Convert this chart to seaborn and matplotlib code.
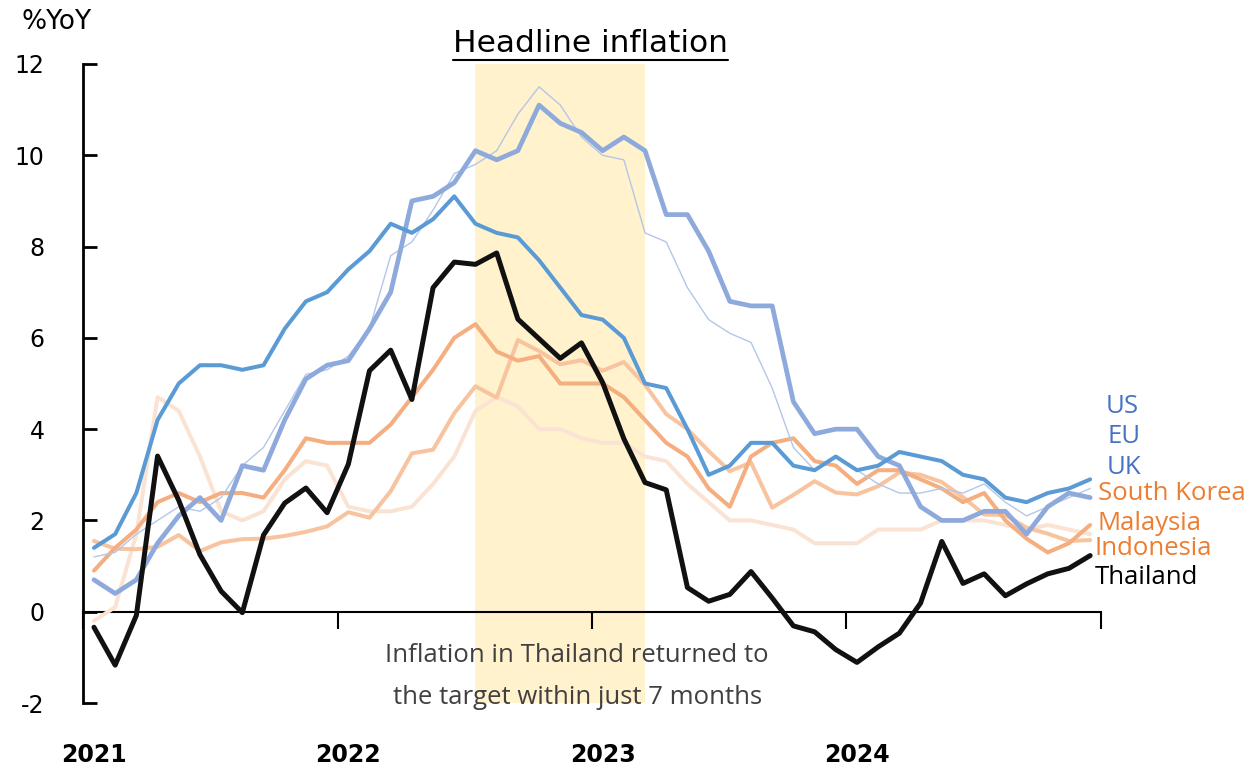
import numpy as np
import pandas as pd
import matplotlib
matplotlib.use("Agg")
import matplotlib.pyplot as plt
from matplotlib.lines import Line2D
import seaborn as sns

# monthly headline CPI, %YoY, Jan 2021 - Dec 2024
thailand = [-0.34, -1.17, -0.08, 3.41, 2.44, 1.25, 0.45, -0.02, 1.68, 2.38, 2.71, 2.17,
            3.23, 5.28, 5.73, 4.65, 7.10, 7.66, 7.61, 7.86, 6.41, 5.98, 5.55, 5.89,
            5.02, 3.79, 2.83, 2.67, 0.53, 0.23, 0.38, 0.88, 0.30, -0.31, -0.44, -0.83,
            -1.11, -0.77, -0.47, 0.19, 1.54, 0.62, 0.83, 0.35, 0.61, 0.83, 0.95, 1.23]
us = [1.4, 1.7, 2.6, 4.2, 5.0, 5.4, 5.4, 5.3, 5.4, 6.2, 6.8, 7.0,
      7.5, 7.9, 8.5, 8.3, 8.6, 9.1, 8.5, 8.3, 8.2, 7.7, 7.1, 6.5,
      6.4, 6.0, 5.0, 4.9, 4.0, 3.0, 3.2, 3.7, 3.7, 3.2, 3.1, 3.4,
      3.1, 3.2, 3.5, 3.4, 3.3, 3.0, 2.9, 2.5, 2.4, 2.6, 2.7, 2.9]
uk = [0.7, 0.4, 0.7, 1.5, 2.1, 2.5, 2.0, 3.2, 3.1, 4.2, 5.1, 5.4,
      5.5, 6.2, 7.0, 9.0, 9.1, 9.4, 10.1, 9.9, 10.1, 11.1, 10.7, 10.5,
      10.1, 10.4, 10.1, 8.7, 8.7, 7.9, 6.8, 6.7, 6.7, 4.6, 3.9, 4.0,
      4.0, 3.4, 3.2, 2.3, 2.0, 2.0, 2.2, 2.2, 1.7, 2.3, 2.6, 2.5]
eu = [1.2, 1.3, 1.7, 2.0, 2.3, 2.2, 2.5, 3.2, 3.6, 4.4, 5.2, 5.3,
      5.6, 6.2, 7.8, 8.1, 8.8, 9.6, 9.8, 10.1, 10.9, 11.5, 11.1, 10.4,
      10.0, 9.9, 8.3, 8.1, 7.1, 6.4, 6.1, 5.9, 4.9, 3.6, 3.1, 3.4,
      3.1, 2.8, 2.6, 2.6, 2.7, 2.6, 2.8, 2.4, 2.1, 2.3, 2.5, 2.7]
south_korea = [0.9, 1.4, 1.8, 2.4, 2.6, 2.4, 2.6, 2.6, 2.5, 3.1, 3.8, 3.7,
               3.7, 3.7, 4.1, 4.7, 5.3, 6.0, 6.3, 5.7, 5.5, 5.6, 5.0, 5.0,
               5.0, 4.7, 4.2, 3.7, 3.4, 2.7, 2.3, 3.4, 3.7, 3.8, 3.3, 3.2,
               2.8, 3.1, 3.1, 2.9, 2.7, 2.4, 2.6, 2.0, 1.6, 1.3, 1.5, 1.9]
indonesia = [1.55, 1.38, 1.37, 1.42, 1.68, 1.33, 1.52, 1.59, 1.60, 1.66, 1.75, 1.87,
             2.18, 2.06, 2.64, 3.47, 3.55, 4.35, 4.94, 4.69, 5.95, 5.71, 5.42, 5.51,
             5.28, 5.47, 4.97, 4.33, 4.00, 3.52, 3.08, 3.27, 2.28, 2.56, 2.86, 2.61,
             2.57, 2.75, 3.05, 3.00, 2.84, 2.51, 2.13, 2.12, 1.84, 1.71, 1.55, 1.57]
malaysia = [-0.2, 0.1, 1.7, 4.7, 4.4, 3.4, 2.2, 2.0, 2.2, 2.9, 3.3, 3.2,
            2.3, 2.2, 2.2, 2.3, 2.8, 3.4, 4.4, 4.7, 4.5, 4.0, 4.0, 3.8,
            3.7, 3.7, 3.4, 3.3, 2.8, 2.4, 2.0, 2.0, 1.9, 1.8, 1.5, 1.5,
            1.5, 1.8, 1.8, 1.8, 2.0, 2.0, 2.0, 1.9, 1.8, 1.9, 1.8, 1.7]
years = ["2021", "2022", "2023", "2024"]
y_ticks = [-2, 0, 2, 4, 6, 8, 10, 12]

months = np.arange(len(thailand))
df = pd.DataFrame({"month": months, "US": us, "EU": eu, "UK": uk,
                   "South Korea": south_korea, "Malaysia": malaysia,
                   "Indonesia": indonesia, "Thailand": thailand})

sns.set_style("white")
plt.rcParams["font.family"] = ["DejaVu Sans"]
plt.rcParams["text.color"] = "black"

fig = plt.figure(figsize=(12.48, 7.69), dpi=100)
ax = fig.add_axes([0.0668, 0.0858, 0.8152, 0.831])

# shaded period Jul 2022 - Mar 2023
ax.axvspan(18, 26, color="#FFF2CC", lw=0, zorder=0)

styles = [
    ("Malaysia", "#FBE3D3", 2.9),
    ("Indonesia", "#F8C4A0", 2.9),
    ("South Korea", "#F4AE80", 2.9),
    ("EU", "#B4C7E7", 1.0),
    ("UK", "#8EA9DB", 3.4),
    ("US", "#5B9BD5", 2.9),
    ("Thailand", "#111111", 3.6),
]
for z, (name, col, lw) in enumerate(styles):
    sns.lineplot(data=df, x="month", y=name, ax=ax, color=col, linewidth=lw,
                 zorder=2 + z)

ax.set_xlim(-0.5, 47.5)
ax.set_ylim(-2, 12)
ax.set_yticks(y_ticks)
ax.set_yticklabels([str(t) for t in y_ticks], fontsize=17, color="black")
ax.set_xticks([-0.5, 11.5, 23.5, 35.5, 47.5])
ax.set_xticklabels([])
ax.set_xlabel("")
ax.set_ylabel("")
ax.tick_params(axis="y", left=True, direction="in", length=10, width=2, pad=28,
               color="black")
ax.tick_params(axis="x", bottom=True, direction="out", length=12, width=1.5,
               color="black")

for s in ["top", "right"]:
    ax.spines[s].set_visible(False)
ax.spines["left"].set_linewidth(2)
ax.spines["left"].set_color("black")
ax.spines["bottom"].set_position(("data", 0))
ax.spines["bottom"].set_linewidth(1.5)
ax.spines["bottom"].set_color("black")
ax.spines["bottom"].set_zorder(1)

for i, yr in enumerate(years):
    ax.text(i * 12, -3.13, yr, ha="center", va="center", fontsize=17,
            fontweight="bold", color="black", clip_on=False)

# series labels on the right
labels = [("US", 4.49, "#4472C4", 47.75), ("EU", 3.83, "#4472C4", 47.8),
          ("UK", 3.15, "#4472C4", 47.8), ("South Korea", 2.58, "#ED7D31", 47.35),
          ("Malaysia", 1.93, "#ED7D31", 47.35), ("Indonesia", 1.38, "#ED7D31", 47.2),
          ("Thailand", 0.74, "black", 47.2)]
for name, yv, col, xv in labels:
    ax.text(xv, yv, name, color=col, fontsize=18.5, ha="left", va="center",
            family=["Open Sans", "DejaVu Sans"], clip_on=False)

ax.text(22.8, -0.95, "Inflation in Thailand returned to", ha="center", va="center",
        fontsize=18.5, color="#404040", family=["Open Sans", "DejaVu Sans"])
ax.text(22.8, -1.87, "the target within just 7 months", ha="center", va="center",
        fontsize=18.5, color="#404040", family=["Open Sans", "DejaVu Sans"])

fig.text(0.017, 0.971, "%YoY", fontsize=19, ha="left", va="center", color="black")
title = fig.text(0.473, 0.944, "Headline inflation", fontsize=22.5, ha="center",
                 va="center", color="black")

fig.canvas.draw()
bb = title.get_window_extent()
W, H = fig.bbox.width, fig.bbox.height
fig.add_artist(Line2D([bb.x0 / W, bb.x1 / W], [(bb.y0 - 2) / H, (bb.y0 - 2) / H],
                      color="black", lw=1.5, transform=fig.transFigure))

fig.savefig("out.png", dpi=100)
